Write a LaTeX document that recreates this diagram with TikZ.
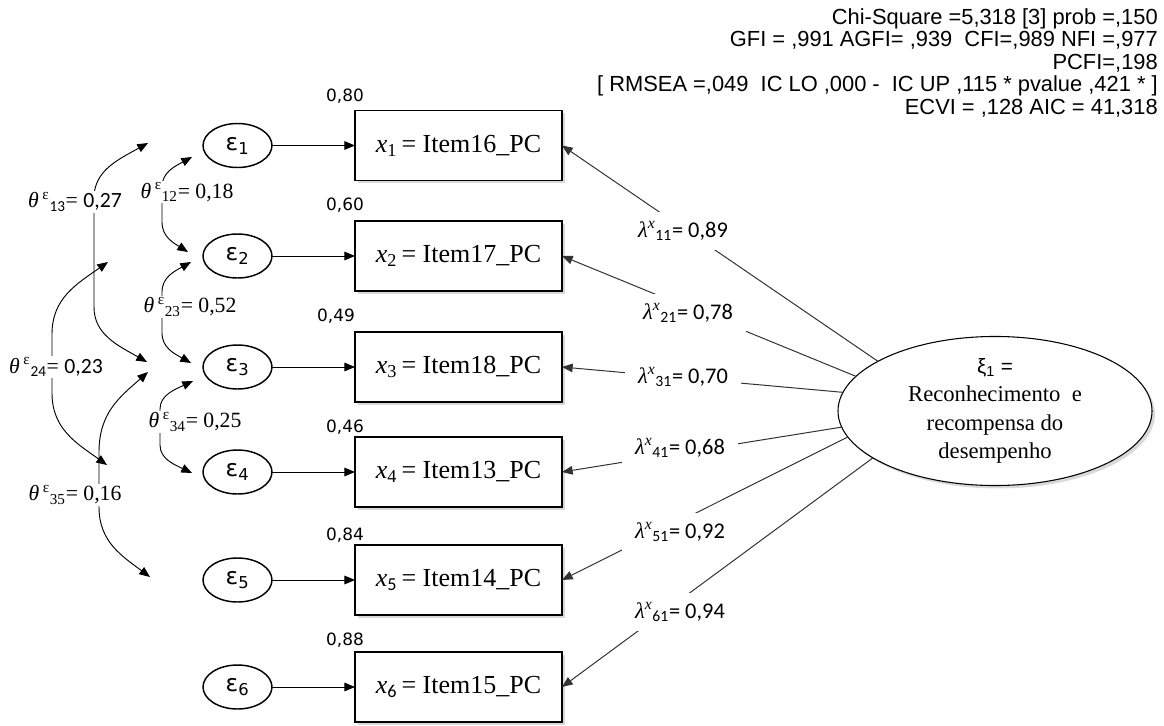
\documentclass[tikz,border=0pt]{standalone}
\usepackage{fontspec}
\setmainfont{Liberation Serif}
\newfontfamily\arialf{Liberation Sans}
\newfontfamily\calf{Carlito}
\newfontfamily\verdf{DejaVu Sans}
\usetikzlibrary{shapes.geometric,shadows,arrows.meta}

% label helpers
\newcommand\lamlab[2]{{\itshape λ}\textsuperscript{\itshape x}\textsubscript{\calf #1}{\calf = #2}}
\newcommand\thlab[2]{{\itshape θ}\,\textsuperscript{ε}\textsubscript{#1}= #2}
\newcommand\thlabs[2]{{\itshape θ}\,\textsuperscript{ε}\textsubscript{\calf #1}= {\calf #2}}
\newcommand\epslab[1]{ε\textsubscript{#1}}
\newcommand\itemlab[3]{{\itshape x}\textsubscript{#1}\,= Item#2\_PC}

\begin{document}
\begin{tikzpicture}[x=0.75pt,y=-0.75pt,
  >={Triangle[length=8pt,width=6.5pt]},
  obs/.style={draw, line width=1.4pt, fill=white, minimum width=155.25pt,
    minimum height=52.5pt, inner sep=0pt, outer sep=0pt,
    font=\fontsize{19.5}{21}\selectfont,
    drop shadow={shadow xshift=2.2pt, shadow yshift=-2.2pt, opacity=0.3}},
  err/.style={draw, ellipse, line width=1.1pt, minimum width=51.75pt,
    minimum height=33pt, inner sep=0pt, outer sep=0pt,
    font=\verdf\fontsize{17.5}{19}\selectfont},
  lat/.style={draw, ellipse, line width=0.8pt, fill=white,
    minimum width=235.5pt, minimum height=91.5pt, inner sep=0pt, outer sep=0pt,
    align=center, font=\fontsize{17}{21.4}\selectfont,
    drop shadow={shadow xshift=2.2pt, shadow yshift=-2.2pt, opacity=0.3}},
  lamnode/.style={fill=white, inner xsep=10pt, inner ysep=7pt,
    font=\fontsize{16.8}{18}\selectfont},
  thnode/.style={fill=white, inner xsep=1.5pt, inner ysep=1pt,
    font=\fontsize{16.3}{18}\selectfont},
  r2/.style={font=\verdf\fontsize{12.7}{14}\selectfont, inner sep=0pt},
  path/.style={line width=0.75pt, ->},
  load/.style={line width=0.75pt, draw=black!80, ->},
  cov/.style={line width=0.7pt, <->},
]
\useasboundingbox (0,0) rectangle (1164,725);

% fit statistics
\node[anchor=north east, align=right, inner sep=0pt,
  font=\arialf\fontsize{16.4}{16.9}\selectfont] (fit) at (1158,8)
  {Chi-Square =5,318 {[}3] prob =,150\\
   GFI = ,991 AGFI= ,939\ \ CFI=,989 NFI =,977\\
   PCFI=,198\\
   {[} RMSEA =,049\ \ IC LO ,000 -\ \ IC UP ,115 * pvalue ,421 * ]\\
   ECVI = ,128 AIC = 41,318};

% observed indicators
\node[obs] (x1) at (458.5,145.5) {\itemlab{1}{16}{}};
\node[obs] (x2) at (458.5,256) {\itemlab{2}{17}{}};
\node[obs] (x3) at (458.5,367) {\itemlab{3}{18}{}};
\node[obs] (x4) at (458.5,472) {\itemlab{4}{13}{}};
\node[obs] (x5) at (458.5,580) {\itemlab{\calf 5}{14}{}};
\node[obs] (x6) at (458.5,687) {\itemlab{\calf 6}{15}{}};

% squared multiple correlations
\node[r2] (r1) at (345,96) {0,80};
\node[r2] (r2) at (345,205) {0,60};
\node[r2] (r3) at (336,316) {0,49};
\node[r2] (r4) at (345,427) {0,46};
\node[r2] (r5) at (345,535) {0,84};
\node[r2] (r6) at (345,640) {0,88};

% measurement errors
\node[err] (e1) at (237.5,145.5) {\epslab{1}};
\node[err] (e2) at (237.5,256) {\epslab{2}};
\node[err] (e3) at (237.5,367) {\epslab{3}};
\node[err] (e4) at (237.5,472) {\epslab{4}};
\node[err] (e5) at (237.5,580) {\epslab{5}};
\node[err] (e6) at (237.5,687) {\epslab{6}};

\foreach \i in {1,...,6} \draw[path] (e\i) -- (x\i);

% latent factor
\node[lat] (xi) at (995,411)
  {{\arialf\fontsize{15.5}{17}\selectfont ξ\textsubscript{1} =}\\
   Reconhecimento\ \ e\\ recompensa do\\ desempenho};

% factor loadings
\draw[load] (xi.157.7) -- (x1.east);
\draw[load] (xi.166.1) -- (x2.east);
\draw[load] (xi.173.3) -- (x3.east);
\draw[load] (xi.186.3) -- (x4.east);
\draw[load] (xi.190.8) -- (x5.east);
\draw[load] (xi.201.4) -- (x6.east);

\node[lamnode] (l1) at (683,231) {\lamlab{11}{0,89}};
\node[lamnode] (l2) at (688,313) {\lamlab{21}{0,78}};
\node[lamnode] (l3) at (683,377) {\lamlab{31}{0,70}};
\node[lamnode] (l4) at (680,448) {\lamlab{41}{0,68}};
\node[lamnode] (l5) at (680,532) {\lamlab{51}{0,92}};
\node[lamnode] (l6) at (680,612) {\lamlab{61}{0,94}};

% error covariances
\coordinate (c12t) at (192,157);  \coordinate (c12b) at (188,252);
\coordinate (c23t) at (191,262);  \coordinate (c23b) at (191,363);
\coordinate (c34t) at (193,381);  \coordinate (c34b) at (192,473);
\coordinate (c13t) at (148,143);  \coordinate (c13b) at (147,362);
\coordinate (c24t) at (108,262);  \coordinate (c24b) at (107,465);
\coordinate (c35t) at (148,372);  \coordinate (c35b) at (150,577);

\draw[cov] (c12t) .. controls (175.5,166) and (162,172) .. (162,187)
  -- (162,222) .. controls (162,237) and (173.7,243) .. (c12b);
\draw[cov] (c23t) .. controls (175,271) and (162,277) .. (162,292)
  -- (162,333) .. controls (162,348) and (175,354) .. (c23b);
\draw[cov] (c34t) .. controls (175,389.4) and (160,395) .. (160,409)
  -- (160,445) .. controls (160,459) and (174.4,464.6) .. (c34b);
\draw[cov] (c13t) .. controls (118.3,159.5) and (94,170.5) .. (94,198)
  -- (94,307) .. controls (94,334.5) and (117.9,345.5) .. (c13b);
\draw[cov] (c24t) .. controls (77.2,283.6) and (52,298) .. (52,334)
  -- (52,393) .. controls (52,429) and (76.8,443.4) .. (c24b);
\draw[cov] (c35t) .. controls (121,396) and (99,412) .. (99,452)
  -- (99,507) .. controls (99,542) and (122,556) .. (c35b);

\node[thnode] (t12) at (187,192) {\thlab{12}{0,18}};
\node[thnode] (t13) at (75,202) {\thlabs{13}{0,27}};
\node[thnode] (t23) at (190,307) {\thlab{23}{0,52}};
\node[thnode] (t24) at (56,367) {\thlabs{24}{0,23}};
\node[thnode] (t34) at (195,422) {\thlab{34}{0,25}};
\node[thnode] (t35) at (75,495) {\thlab{35}{0,16}};
\end{tikzpicture}
\end{document}
